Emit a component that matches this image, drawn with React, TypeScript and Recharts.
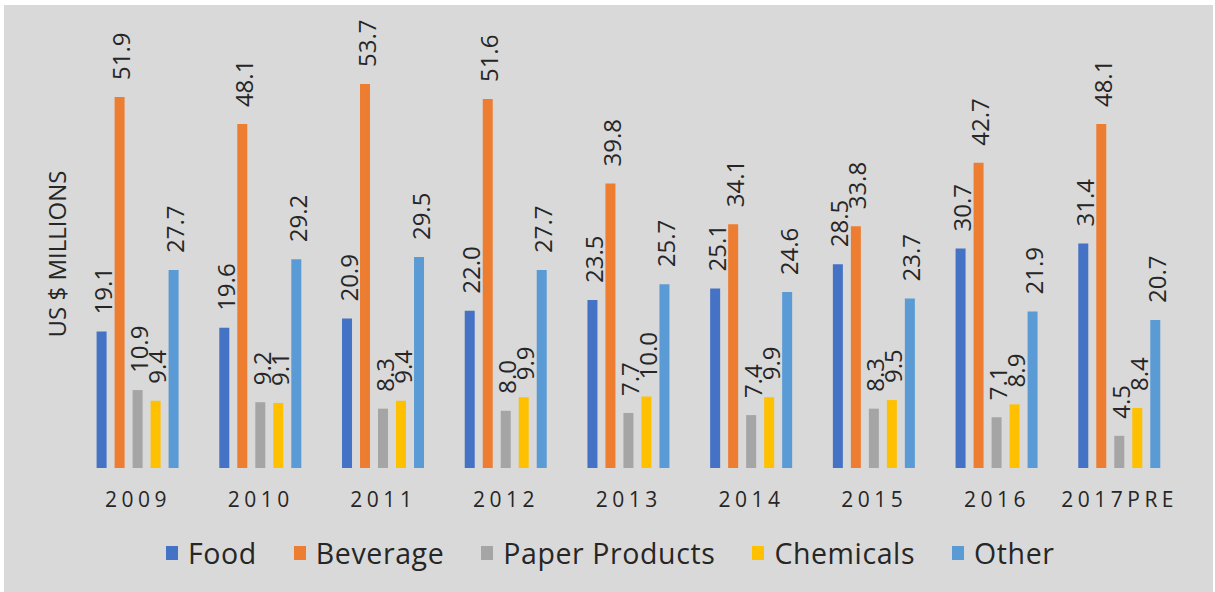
import React from 'react';
import { BarChart, Bar, XAxis, YAxis, LabelList, Legend } from 'recharts';

const categories = ['2009', '2010', '2011', '2012', '2013', '2014', '2015', '2016', '2017PRE'];
const food = [19.1, 19.6, 20.9, 22.0, 23.5, 25.1, 28.5, 30.7, 31.4];
const beverage = [51.9, 48.1, 53.7, 51.6, 39.8, 34.1, 33.8, 42.7, 48.1];
const paperProducts = [10.9, 9.2, 8.3, 8.0, 7.7, 7.4, 8.3, 7.1, 4.5];
const chemicals = [9.4, 9.1, 9.4, 9.9, 10.0, 9.9, 9.5, 8.9, 8.4];
const other = [27.7, 29.2, 29.5, 27.7, 25.7, 24.6, 23.7, 21.9, 20.7];

const seriesKeys = ['food', 'beverage', 'paper', 'chemicals', 'other'];
const seriesNames = ['Food', 'Beverage', 'Paper Products', 'Chemicals', 'Other'];
const seriesColors = ['#4472C4', '#ED7D31', '#A5A5A5', '#FFC000', '#5B9BD5'];
const seriesValues = [food, beverage, paperProducts, chemicals, other];

const data = categories.map((year, i) => {
  const row: Record<string, string | number> = { year };
  seriesKeys.forEach((k, s) => {
    row[k] = seriesValues[s][i];
  });
  return row;
});

const FONT = '"Open Sans", sans-serif';
const TEXT = '#262626';

const renderValueLabel = (props: any) => {
  const { x, y, width, value } = props;
  const lx = Number(x) + Number(width) / 2 + 1;
  const ly = Number(y) - 17;
  return (
    <text
      x={lx}
      y={ly}
      transform={`rotate(-90 ${lx} ${ly})`}
      textAnchor="start"
      dominantBaseline="central"
      fontSize={24}
      fontFamily={FONT}
      fill={TEXT}
    >
      {Number(value).toFixed(1)}
    </text>
  );
};

const renderTick = (props: any) => {
  const { x, y, payload } = props;
  return (
    <text
      x={x}
      y={Number(y) + 39}
      textAnchor="middle"
      fontSize={21}
      fontFamily={FONT}
      fill={TEXT}
      letterSpacing={4.5}
    >
      {payload.value}
    </text>
  );
};

const renderYLabel = () => (
  <text
    x={56}
    y={254}
    transform="rotate(-90 56 254)"
    textAnchor="middle"
    dominantBaseline="central"
    fontSize={24}
    fontFamily={FONT}
    fill={TEXT}
  >
    US $ MILLIONS
  </text>
);

const renderLegend = () => (
  <div
    style={{
      display: 'flex',
      flexDirection: 'row',
      alignItems: 'center',
      paddingLeft: 166,
      height: 38,
      fontFamily: FONT,
      fontSize: 28.5,
      letterSpacing: 0.6,
      color: TEXT,
      whiteSpace: 'nowrap',
    }}
  >
    {seriesNames.map((name, i) => (
      <div key={name} style={{ display: 'flex', alignItems: 'center', marginRight: 37 }}>
        <div
          style={{
            width: 12,
            height: 14,
            background: seriesColors[i],
            marginRight: 10,
          }}
        />
        <span style={{ lineHeight: '38px' }}>{name}</span>
      </div>
    ))}
  </div>
);

export default function App() {
  return (
    <div style={{ position: 'absolute', left: 0, top: 0, width: 1215, height: 592, background: '#ffffff' }}>
      <div
        style={{
          position: 'absolute',
          left: 4,
          top: 5,
          width: 1209,
          height: 587,
          background: '#D9D9D9',
        }}
      />
      <div style={{ position: 'absolute', left: 0, top: 0 }}>
        <BarChart
          width={1215}
          height={592}
          data={data}
          margin={{ top: 39, right: 34, left: 0, bottom: 84 }}
          barSize={10}
          barGap={8}
        >
          <XAxis
            dataKey="year"
            axisLine={false}
            tickLine={false}
            tickSize={0}
            tickMargin={0}
            height={40}
            interval={0}
            tick={renderTick}
          />
          <YAxis
            domain={[0, 60]}
            width={76.6}
            axisLine={false}
            tickLine={false}
            tick={false}
            label={renderYLabel}
          />
          <Legend
            layout="horizontal"
            verticalAlign="middle"
            align="center"
            wrapperStyle={{ position: 'absolute', top: 534, left: 0, width: 1215, height: 38 }}
            content={renderLegend}
          />
          {seriesKeys.map((k, s) => (
            <Bar
              key={k}
              dataKey={k}
              name={seriesNames[s]}
              fill={seriesColors[s]}
              isAnimationActive={false}
            >
              <LabelList dataKey={k} content={renderValueLabel} />
            </Bar>
          ))}
        </BarChart>
      </div>
    </div>
  );
}
